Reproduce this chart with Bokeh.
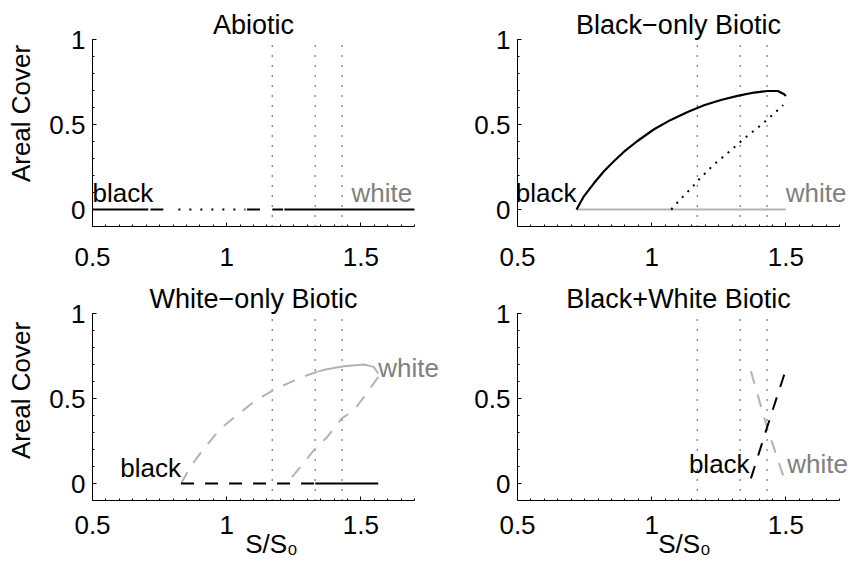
import numpy as np
from bokeh.plotting import figure
from bokeh.layouts import column, row
from bokeh.models import Label, FixedTicker, NumeralTickFormatter, Range1d
from bokeh.embed import file_html
from bokeh.resources import INLINE

FONT = "Liberation Sans"
BLACK = "#000000"
GREY_LINE = "#b3b3b3"
GREY_TEXT = "#808080"

# ---- axes -------------------------------------------------------------
x_ticks = [0.5, 1.0, 1.5]
y_ticks = [0.0, 0.5, 1.0]
x_limits = (0.5, 1.7)
y_limits = (-0.1, 1.0)
thresholds = [1.17, 1.33, 1.43]          # dotted reference lines in S/S0

# ---- Abiotic: cover stays at zero; pieces of the y = 0 line -------------
abiotic_x0 = [0.50, 0.716, 0.82, 1.076, 1.17, 1.215]
abiotic_x1 = [0.708, 0.764, 1.07, 1.124, 1.21, 1.70]
abiotic_style = ["solid", "solid", "dot", "solid", "solid", "solid"]

# ---- Black-only biotic ------------------------------------------------
bo_black_x = [0.72, 0.748, 0.786, 0.823, 0.860, 0.897, 0.947, 1.009, 1.071, 1.134,
              1.195, 1.258, 1.320, 1.382, 1.432, 1.470, 1.494, 1.50]
bo_black_y = [0.0, 0.079, 0.157, 0.226, 0.285, 0.340, 0.403, 0.472, 0.527, 0.574,
              0.613, 0.644, 0.668, 0.688, 0.697, 0.697, 0.678, 0.668]
bo_unstable_x = [1.073, 1.099, 1.127, 1.152, 1.177, 1.233, 1.289, 1.345, 1.406, 1.459, 1.490]
bo_unstable_y = [0.0, 0.046, 0.093, 0.132, 0.178, 0.266, 0.340, 0.418, 0.495, 0.569, 0.614]
bo_white_x = [0.72, 1.50]
bo_white_y = [0.0, 0.0]

# ---- White-only biotic ------------------------------------------------
wo_white_up_x = [0.83, 0.865, 0.915, 0.977, 1.039, 1.101, 1.163, 1.232, 1.300, 1.34]
wo_white_up_y = [0.0, 0.098, 0.206, 0.323, 0.402, 0.480, 0.539, 0.592, 0.637, 0.658]
wo_white_top_x = [1.34, 1.368, 1.437, 1.511, 1.548, 1.565]
wo_white_top_y = [0.658, 0.671, 0.690, 0.700, 0.686, 0.647]
wo_white_low_x = [1.565, 1.521, 1.474, 1.428, 1.375, 1.325, 1.275, 1.224]
wo_white_low_y = [0.627, 0.529, 0.431, 0.382, 0.274, 0.196, 0.098, 0.0]
wo_black_dash_x = [0.83, 1.33]
wo_black_solid_x = [1.33, 1.565]

# ---- Black+White biotic -----------------------------------------------
bw_black_x = [1.37, 1.43, 1.50]
bw_black_y = [0.03, 0.33, 0.67]
bw_white_x = [1.37, 1.43, 1.50]
bw_white_y = [0.66, 0.33, 0.0]

# ---- panel titles and curve labels: (text, x, baseline y, align, colour) ---
titles = ["Abiotic", "Black\u2212only Biotic", "White\u2212only Biotic", "Black+White Biotic"]
labels_abiotic = [("black", 0.50, 0.043, "left", BLACK), ("white", 1.465, 0.043, "left", GREY_TEXT)]
labels_black_only = [("black", 0.72, 0.043, "right", BLACK), ("white", 1.50, 0.043, "left", GREY_TEXT)]
labels_white_only = [("black", 0.83, 0.039, "right", BLACK), ("white", 1.565, 0.627, "left", GREY_TEXT)]
labels_both = [("black", 1.365, 0.059, "right", BLACK), ("white", 1.505, 0.059, "left", GREY_TEXT)]

DASH = "13 11"
TICK_SIZE = "26px"
TEXT_SIZE = "26px"
TITLE_SIZE = "27px"
PX_PER_X = 322 / 1.2        # frame pixels per unit of S/S0
PX_PER_Y = 187 / 1.1        # frame pixels per unit of cover
MID_ABOVE_BASELINE = 9 / PX_PER_Y
TITLE_GAP = 6 / PX_PER_Y     # title baseline sits this far above the y = 1 end of the axis


def make_panel(title, width, height, b_left, b_bottom, tick_standoff,
               ylabel=None, xlabel=None):
    # the plotting frame fills the figure to the right and top so that the
    # curve labels and the title are never cut; the axes stay bounded to
    # the 0.5-1.7 and -0.1-1 intervals
    x_end = x_limits[0] + (width - b_left) / PX_PER_X
    y_end = y_limits[0] + (height - b_bottom) / PX_PER_Y
    p = figure(width=width, height=height,
               x_range=Range1d(x_limits[0], x_end), y_range=Range1d(y_limits[0], y_end),
               output_backend="svg", toolbar_location=None,
               min_border_left=b_left, min_border_right=0,
               min_border_top=0, min_border_bottom=b_bottom)
    p.outline_line_color = None
    p.xgrid.visible = False
    p.ygrid.visible = False
    p.background_fill_color = "white"
    p.border_fill_color = "white"

    p.xaxis.ticker = FixedTicker(ticks=x_ticks,
                                 minor_ticks=list(np.round(np.arange(0.55, 1.7001, 0.05), 2)))
    p.yaxis.ticker = FixedTicker(ticks=y_ticks,
                                 minor_ticks=list(np.round(np.arange(0.1, 1.0001, 0.1), 2)))
    p.xaxis.bounds = x_limits
    p.yaxis.bounds = y_limits
    for ax in (p.xaxis[0], p.yaxis[0]):
        ax.formatter = NumeralTickFormatter(format="0.[0]")
        ax.axis_line_color = BLACK
        ax.major_tick_line_color = BLACK
        ax.minor_tick_line_color = BLACK
        ax.major_tick_in = 4
        ax.major_tick_out = 0
        ax.minor_tick_in = 2
        ax.minor_tick_out = 0
        ax.major_label_text_font = FONT
        ax.major_label_text_font_size = TICK_SIZE
        ax.major_label_text_color = BLACK
        ax.axis_label_text_font = FONT
        ax.axis_label_text_font_size = TEXT_SIZE
        ax.axis_label_text_font_style = "normal"
        ax.axis_label_text_color = BLACK
    p.xaxis.major_label_standoff = tick_standoff
    p.yaxis.major_label_standoff = 7
    if ylabel:
        p.yaxis.axis_label = ylabel
        p.yaxis.axis_label_standoff = 10
    if xlabel:
        p.xaxis.axis_label = xlabel
        p.xaxis.axis_label_standoff = -8

    # dotted reference lines over the plotted cover range
    n = len(thresholds)
    p.segment(x0=thresholds, y0=[y_limits[0]] * n, x1=thresholds, y1=[y_limits[1]] * n,
              line_color=BLACK, line_width=1.3, line_dash="1 9")

    # title centred over the x axis
    p.add_layout(Label(x=(x_limits[0] + x_limits[1]) / 2,
                       y=y_limits[1] + TITLE_GAP + MID_ABOVE_BASELINE,
                       text=title, text_align="center", text_baseline="middle",
                       text_font=FONT, text_font_size=TITLE_SIZE, text_color=BLACK))
    return p


def add_labels(p, items):
    for text, x, y, align, colour in items:
        p.add_layout(Label(x=x, y=y + MID_ABOVE_BASELINE, text=text, text_align=align,
                           text_baseline="middle", text_font=FONT,
                           text_font_size=TEXT_SIZE, text_color=colour))


LEFT_W, RIGHT_W = 450, 401
TOP_H, BOT_H = 280, 289

# Abiotic
p1 = make_panel(titles[0], LEFT_W, TOP_H, 92, 54, 21, ylabel="Areal Cover")
for x0, x1, style in zip(abiotic_x0, abiotic_x1, abiotic_style):
    if style == "dot":
        p1.line([x0, x1], [0, 0], line_color=BLACK, line_width=2, line_dash="2 9")
    else:
        p1.line([x0, x1], [0, 0], line_color=BLACK, line_width=2)
add_labels(p1, labels_abiotic)

# Black-only biotic
p2 = make_panel(titles[1], RIGHT_W, TOP_H, 67, 54, 21)
p2.line(bo_white_x, bo_white_y, line_color=GREY_LINE, line_width=2)
p2.line(bo_unstable_x, bo_unstable_y, line_color=BLACK, line_width=2, line_dash="2 6")
p2.line(bo_black_x, bo_black_y, line_color=BLACK, line_width=2.2)
add_labels(p2, labels_black_only)

# White-only biotic
p3 = make_panel(titles[2], LEFT_W, BOT_H, 92, 69, 15,
                ylabel="Areal Cover", xlabel="S/S\u2080")
p3.line(wo_white_up_x, wo_white_up_y, line_color=GREY_LINE, line_width=2, line_dash=DASH)
p3.line(wo_white_top_x, wo_white_top_y, line_color=GREY_LINE, line_width=2)
p3.line(wo_white_low_x, wo_white_low_y, line_color=GREY_LINE, line_width=2, line_dash=DASH)
p3.line(wo_black_dash_x, [0, 0], line_color=BLACK, line_width=2, line_dash=DASH)
p3.line(wo_black_solid_x, [0, 0], line_color=BLACK, line_width=2)
add_labels(p3, labels_white_only)

# Black+White biotic
p4 = make_panel(titles[3], RIGHT_W, BOT_H, 67, 69, 15, xlabel="S/S\u2080")
p4.line(bw_white_x, bw_white_y, line_color=GREY_LINE, line_width=2, line_dash=DASH)
p4.line(bw_black_x, bw_black_y, line_color=BLACK, line_width=2, line_dash=DASH)
add_labels(p4, labels_both)

layout = column(row(p1, p2, spacing=0), row(p3, p4, spacing=0), spacing=0)
open("out.html", "w").write(file_html(layout, INLINE))
